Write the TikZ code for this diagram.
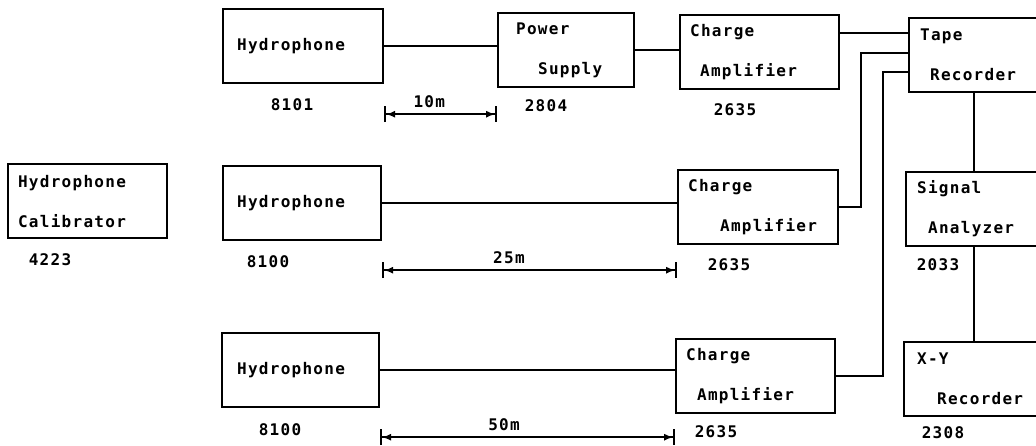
\documentclass[tikz,border=0pt]{standalone}
\usepackage{fontspec}
\usepackage{tikz}
\usetikzlibrary{arrows.meta,calc}
\newfontfamily\platefont[LetterSpace=8]{DejaVu Sans Mono}

\begin{document}
\begin{tikzpicture}[
  x=1pt, y=-1pt,
  font=\platefont\bfseries\fontsize{16}{40}\selectfont,
  box/.style={draw,line width=2.2pt,anchor=north west,minimum width=#1,text width=#1-20pt,minimum height=74pt,inner xsep=10pt,inner ysep=0pt,align=left},
  num/.style={inner sep=0pt},
  wire/.style={line width=1.8pt},
  dim/.style={{Bar[width=16pt]Latex[length=9pt,width=7pt]}-{Latex[length=9pt,width=7pt]Bar[width=16pt]},line width=1.8pt},
  dimlabel/.style={inner sep=0pt,above=6pt}
]
\useasboundingbox (0,0) rectangle (1036,445);
\clip (0,0) rectangle (1036,445);

% boxes
\node[box=160] (hyA) at (222,8) {\hspace*{4pt}Hydrophone};
\node[box=136] (ps) at (497,12) {\hspace*{8pt}Power\\\hspace*{30pt}Supply};
\node[box=159] (caA) at (679,14) {Charge\\\hspace*{10pt}Amplifier};
\node[box=160] (tr) at (908,17) {\hspace*{1pt}Tape\\\hspace*{11pt}Recorder};
\node[box=159] (cal) at (7,163) {Hydrophone\\Calibrator};
\node[box=158] (hyB) at (222,165) {\hspace*{4pt}Hydrophone};
\node[box=160] (caB) at (677,169) {Charge\\\hspace*{32pt}Amplifier};
\node[box=160] (sa) at (905,171) {\hspace*{1pt}Signal\\\hspace*{12pt}Analyzer};
\node[box=157] (hyC) at (221,332) {\hspace*{5pt}Hydrophone};
\node[box=159] (caC) at (675,338) {Charge\\\hspace*{11pt}Amplifier};
\node[box=160] (xy) at (903,341) {\hspace*{3pt}X-Y\\\hspace*{23pt}Recorder};

% type numbers
\node[num] (nHyA) at (292,105) {8101};
\node[num] (nPs) at (546,106) {2804};
\node[num] (nCaA) at (735,110) {2635};
\node[num] (nCal) at (50,260) {4223};
\node[num] (nHyB) at (268,262) {8100};
\node[num] (nCaB) at (729,265) {2635};
\node[num] (nSa) at (938,265) {2033};
\node[num] (nHyC) at (280,430) {8100};
\node[num] (nCaC) at (716,432) {2635};
\node[num] (nXy) at (943,433) {2308};

% cables
\coordinate (jB) at (861,53);
\coordinate (jC) at (883,72);
\coordinate (bus) at (974,0);
\draw[wire] (hyA.east) -- (hyA.east -| ps.west);
\draw[wire] (ps.east) -- (ps.east -| caA.west);
\draw[wire] ([yshift=-19pt]caA.north east) -- ([yshift=-19pt]caA.north east -| tr.west);
\draw[wire] (hyB.east) -- (hyB.east -| caB.west);
\draw[wire] (hyC.east) -- (hyC.east -| caC.west);
\draw[wire] (caB.east) -| (jB) -- (jB -| tr.west);
\draw[wire] (caC.east) -| (jC) -- (jC -| tr.west);
\draw[wire] (tr.south -| bus) -- (sa.north -| bus);
\draw[wire] (sa.south -| bus) -- (xy.north -| bus);

% cable lengths
\draw[dim] ([yshift=-30pt]hyA.south east) -- ([yshift=-30pt]hyA.south east -| ps.west) node[dimlabel,pos=0.4] (lA) {10m};
\draw[dim] ([yshift=-29pt]hyB.south east) -- ([yshift=-29pt]hyB.south east -| caB.west) node[dimlabel,pos=0.43] (lB) {25m};
\draw[dim] ([yshift=-29pt]hyC.south east) -- ([yshift=-29pt]hyC.south east -| caC.west) node[dimlabel,pos=0.42] (lC) {50m};
\end{tikzpicture}
\end{document}
